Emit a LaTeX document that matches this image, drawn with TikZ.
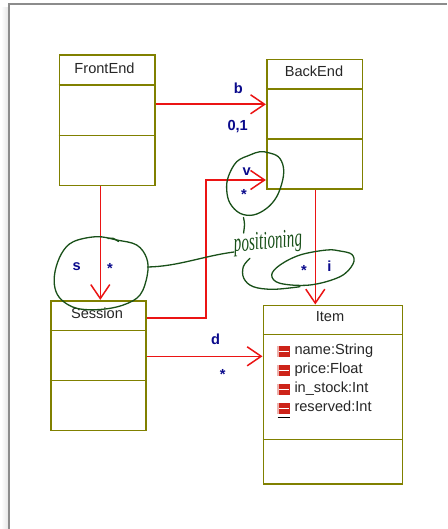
\documentclass[tikz,border=0pt]{standalone}
\usepackage{fontspec}
\setmainfont{Liberation Sans}
\newfontfamily\handfont{Liberation Serif}
\usetikzlibrary{arrows.meta}

\definecolor{classline}{RGB}{128,128,0}
\definecolor{assocred}{RGB}{235,20,20}
\definecolor{rolenavy}{RGB}{10,10,140}
\definecolor{ink}{RGB}{25,80,25}
\definecolor{attrred}{RGB}{205,35,25}

\begin{document}
\begin{tikzpicture}[x=1pt,y=-1pt,
  classbox/.style={draw=classline, line width=1.6pt, fill=white, rectangle, inner sep=0pt},
  divider/.style={draw=classline, line width=1.5pt},
  title/.style={font=\fontsize{14.6}{14.6}\selectfont, text=black!85, anchor=base, inner sep=0pt},
  assoc/.style={draw=assocred, line width=1.6pt,
    -{Straight Barb[length=14pt,width=19pt,line width=1.5pt]}},
  role/.style={font=\bfseries\fontsize{14.6}{14.6}\selectfont, text=rolenavy, anchor=base, inner sep=0pt},
  attr/.style={font=\fontsize{14.6}{14.6}\selectfont, text=black!85, anchor=base west, inner sep=0pt},
  ink stroke/.style={draw=ink, line width=1.3pt, line cap=round, line join=round},
  ink text/.style={font=\handfont\itshape\fontsize{16}{16}\selectfont, text=ink, inner sep=0pt},
  attricon/.pic={
    \fill[attrred] (0,0) rectangle (12.7,10.7);
    \fill[white!65!attrred] (0,0) rectangle (1.3,10.7);
    \fill[white] (1.6,4.6) rectangle (11.4,6.0);
  },
]
\useasboundingbox (0,0) rectangle (447,529);
\fill[white] (0,0) rectangle (447,529);

% page frame with a soft shadow on the left
\fill[left color=white, right color=black!10] (1,8) rectangle (8.3,529);
\draw[black!45, line width=1.6pt] (9,529) -- (9,4) -- (447,4);

% classes
\node[classbox, minimum width=95.7pt, minimum height=130.4pt] (FrontEnd) at (107.2,120.5) {};
\node[classbox, minimum width=95.6pt, minimum height=129.7pt] (BackEnd) at (314.5,124.2) {};
\node[classbox, minimum width=95.3pt, minimum height=129.6pt] (Session) at (98.35,365.5) {};
\node[classbox, minimum width=139pt, minimum height=178.7pt] (Item) at (332.8,394.65) {};

\draw[divider] (FrontEnd.west |- 0,85) -- (FrontEnd.east |- 0,85);
\draw[divider] (FrontEnd.west |- 0,135.7) -- (FrontEnd.east |- 0,135.7);
\draw[divider] (BackEnd.west |- 0,89) -- (BackEnd.east |- 0,89);
\draw[divider] (BackEnd.west |- 0,139) -- (BackEnd.east |- 0,139);
\draw[divider] (Session.west |- 0,330.3) -- (Session.east |- 0,330.3);
\draw[divider] (Session.west |- 0,380.3) -- (Session.east |- 0,380.3);
\draw[divider] (Item.west |- 0,334.3) -- (Item.east |- 0,334.3);
\draw[divider] (Item.west |- 0,439.7) -- (Item.east |- 0,439.7);

\node[title] (FrontEnd-name) at (104.5,73.3) {FrontEnd};
\node[title] (BackEnd-name) at (314,76.7) {BackEnd};
\node[title] (Session-name) at (97,318.3) {Session};
\node[title] (Item-name) at (330,321.7) {Item};

% attributes of Item
\foreach \yb/\txt [count=\k] in {354.3/name:String, 373.4/price:Float, 392.5/in\_stock:Int, 411.6/reserved:Int}{
  \pic at (277.3,\yb-8.3) {attricon};
  \node[attr] (attr-\k) at (294.3,\yb) {\txt};
}
\draw[black, line width=0.9pt] (277.5,417.4) -- (289.5,417.4);

% associations
\coordinate (xFS) at (100.3,0);
\coordinate (xBI) at (315.3,0);
\coordinate (vbend) at (206,180);
\draw[assoc] (FrontEnd.east |- 0,104.3) -- (BackEnd.west |- 0,104.3);
\draw[assoc] (xFS |- FrontEnd.south) -- (xFS |- Session.north);
\draw[assoc] (Session.east |- 0,318) -| (vbend) -- (BackEnd.west |- vbend);
\draw[assoc] (xBI |- BackEnd.south) -- (xBI |- Item.north);
\draw[assoc] (Session.east |- 0,356.3) -- (Item.west |- 0,356.3);

% role names and multiplicities
\node[role] (r-b) at (238.3,93.3) {b};
\node[role] (m-b) at (237.7,131) {0,1};
\node[role] (r-v) at (246.7,175.7) {v};
\node[role] (m-v) at (244,199.5) {*};
\node[role] (r-s) at (76.7,270) {s};
\node[role] (m-s) at (110,273.7) {*};
\node[role] (m-i) at (304,275) {*};
\node[role] (r-i) at (329.3,271.7) {i};
\node[role] (r-d) at (215.7,344) {d};
\node[role] (m-d) at (222.7,379) {*};

% handwritten annotation
\draw[ink stroke] plot[smooth cycle, tension=0.6] coordinates {
  (260,151.7) (250,155) (236.7,161.7) (228.3,176.7) (226.7,190) (230,203.3)
  (240,213.3) (253.3,215) (266.7,208.3) (276.7,196.7) (282.7,180) (283.3,166.7)
  (278.3,156.7) (268.3,152.7)};
\draw[ink stroke] (243.5,217.5) .. controls (244.8,224) .. (243.6,233);
\draw[ink stroke] plot[smooth cycle, tension=0.6] coordinates {
  (96.7,236.7) (73.3,241.7) (61.7,253.3) (55,271.7) (55,288.3) (61.7,300)
  (76.7,308.3) (100,309.5) (123.3,305) (140,295) (147.3,275) (146.7,258.3)
  (136.7,245) (116.7,240)};
\draw[ink stroke] (108,238.5) .. controls (113,237.8) .. (118.5,241.5);
\draw[ink stroke] (147.5,267) .. controls (178,266.5) and (203,256) .. (234,252);
\node[ink text, rotate=5, xscale=0.95, yscale=1.6] (annot) at (268,243) {positioning};
\draw[ink stroke] plot[smooth cycle, tension=0.6] coordinates {
  (271.7,275) (280,283.3) (310,285) (340,276.7) (353,264) (352,254.5)
  (340,251) (326.7,250) (300,255) (280,265)};
\draw[ink stroke] plot[smooth, tension=0.6] coordinates {
  (250,258.3) (243.3,266.7) (243.8,278.3) (253.3,286.7) (273.3,289.3) (300,286.7)};
\end{tikzpicture}
\end{document}
